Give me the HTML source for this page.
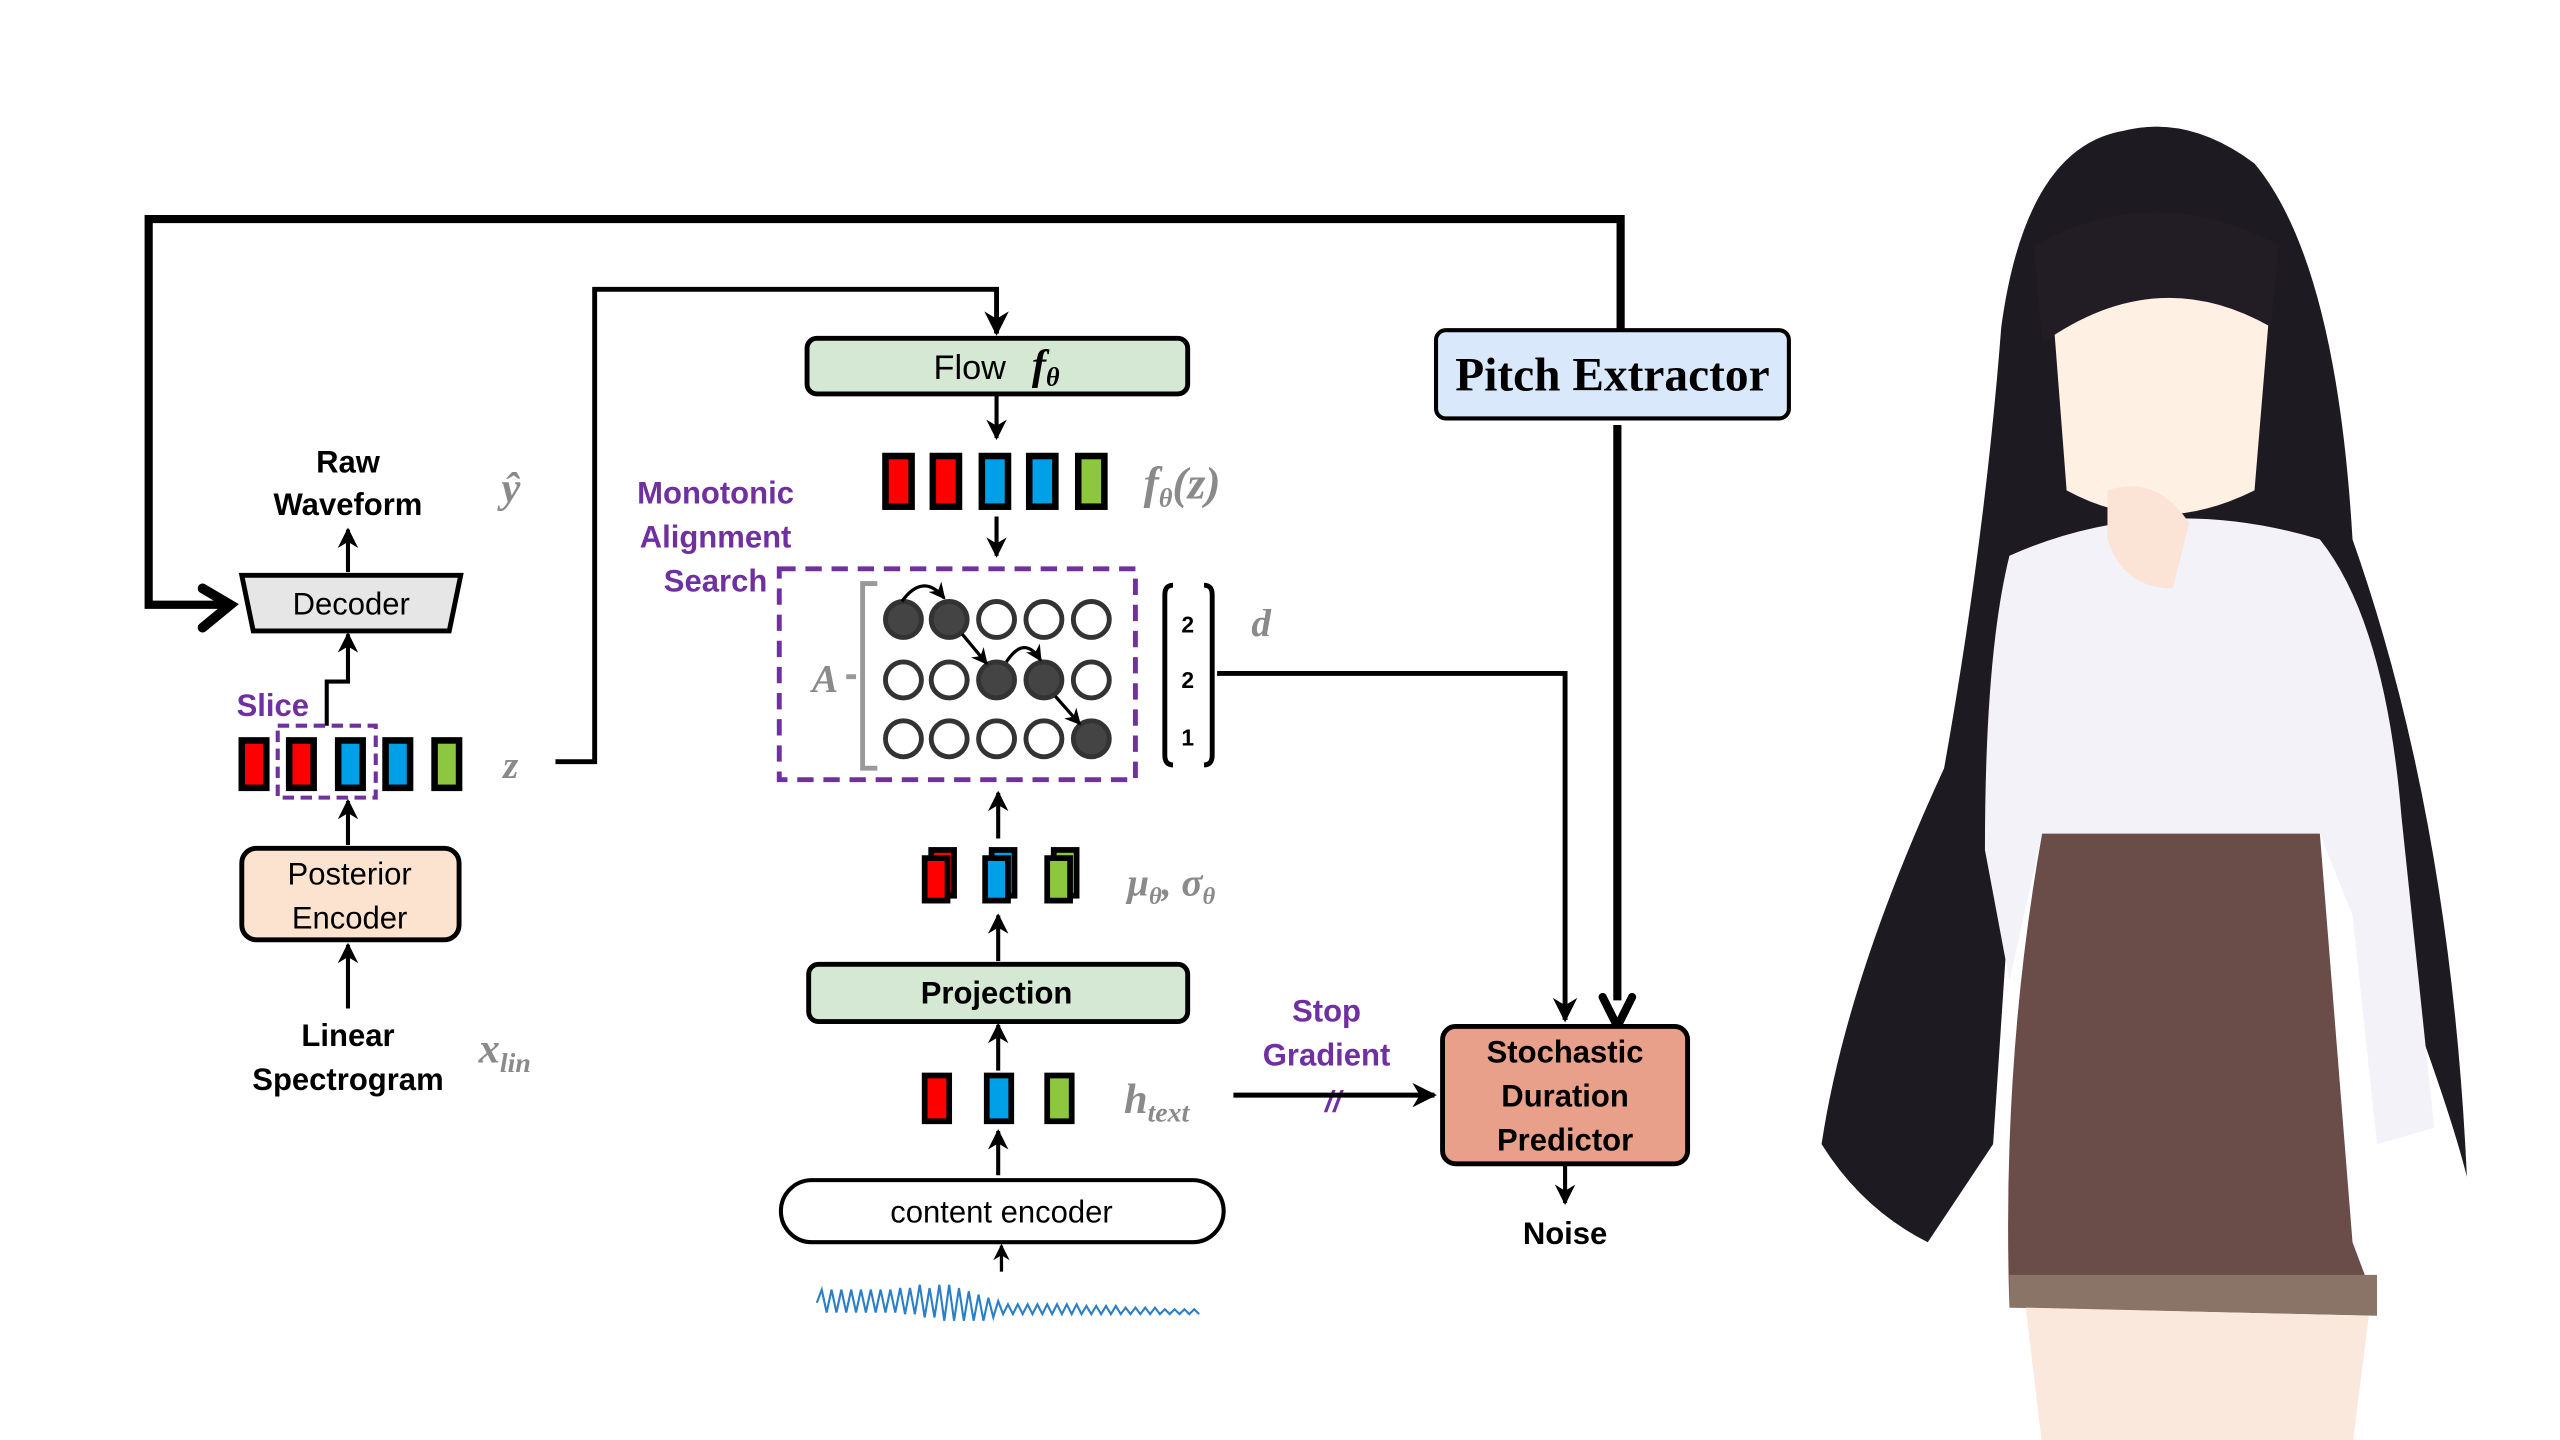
<!DOCTYPE html>
<html><head><meta charset="utf-8"><style>
html,body{margin:0;padding:0;background:#fff;}
svg{display:block;}
text{font-family:"Liberation Sans",sans-serif;font-weight:bold;}
.m{font-family:"Liberation Serif",serif;font-style:italic;fill:#8a8a8a;font-weight:bold;}
.p{fill:#7030a0;}
</style></head><body>
<svg width="2560" height="1440" viewBox="0 0 1567 881" preserveAspectRatio="none" xmlns="http://www.w3.org/2000/svg">
<defs>
<marker id="a" viewBox="0 0 10 10" refX="9" refY="5" markerWidth="5" markerHeight="5" orient="auto"><path d="M0,0 L10,5 L0,10 L3,5 z" fill="#000"/></marker>
</defs>
<path d="M992,202 V134 H91 V370 H138" fill="none" stroke="#000" stroke-width="5"/>
<path d="M124,360 L141,370 L124,384" fill="none" stroke="#000" stroke-width="6" stroke-linecap="round"/>
<rect x="879" y="202" width="216" height="54" rx="6" fill="#dae8fc" stroke="#000" stroke-width="2.5"/>
<text x="987" y="239" text-anchor="middle" style="font-family:'Liberation Serif',serif;font-size:29px;font-weight:bold">Pitch Extractor</text>
<path d="M990,260 V612" stroke="#000" stroke-width="5" fill="none"/>
<path d="M981,610 L990,628 L999,610" fill="none" stroke="#000" stroke-width="5" stroke-linecap="round"/>
<path d="M340,466 H364 V177 H610 V204" fill="none" stroke="#000" stroke-width="3" marker-end="url(#a)"/>
<rect x="494" y="207" width="233" height="34" rx="6" fill="#d5e8d4" stroke="#000" stroke-width="3"/>
<text x="610" y="232" text-anchor="middle" font-size="21" style="font-weight:normal">Flow <tspan class="m" style="fill:#000" font-size="26" dx="10">f</tspan><tspan class="m" style="fill:#000" font-size="16" dy="4">θ</tspan></text>
<path d="M610,241 V268" stroke="#000" stroke-width="2.5" marker-end="url(#a)"/>
<g stroke="#000" stroke-width="4">
<rect x="542" y="279" width="16" height="31" fill="#f00"/><rect x="571" y="279" width="16" height="31" fill="#f00"/>
<rect x="601" y="279" width="16" height="31" fill="#00a0e8"/><rect x="630" y="279" width="16" height="31" fill="#00a0e8"/>
<rect x="660" y="279" width="16" height="31" fill="#8dc63f"/>
</g>
<text x="700" y="305" class="m" font-size="28">f<tspan font-size="16" dy="5">θ</tspan><tspan dy="-5">(z)</tspan></text>
<path d="M610,316 V340" stroke="#000" stroke-width="2.5" marker-end="url(#a)"/>
<text x="438" y="308" text-anchor="middle" class="p" font-size="19">Monotonic</text>
<text x="438" y="335" text-anchor="middle" class="p" font-size="19">Alignment</text>
<text x="438" y="362" text-anchor="middle" class="p" font-size="19">Search</text>
<rect x="477" y="348" width="218" height="129" fill="none" stroke="#7030a0" stroke-width="3" stroke-dasharray="10,6"/>
<text x="497" y="423" class="m" font-size="24">A</text>
<path d="M518,414 H524 M537,357 H528 V470 H537" fill="none" stroke="#999" stroke-width="3"/>
<g stroke="#333" stroke-width="3">
<circle cx="553" cy="379" r="11" fill="#444"/><circle cx="581" cy="379" r="11" fill="#444"/><circle cx="610" cy="379" r="11" fill="#fff"/><circle cx="639" cy="379" r="11" fill="#fff"/><circle cx="668" cy="379" r="11" fill="#fff"/>
<circle cx="553" cy="416" r="11" fill="#fff"/><circle cx="581" cy="416" r="11" fill="#fff"/><circle cx="610" cy="416" r="11" fill="#444"/><circle cx="639" cy="416" r="11" fill="#444"/><circle cx="668" cy="416" r="11" fill="#fff"/>
<circle cx="553" cy="452" r="11" fill="#fff"/><circle cx="581" cy="452" r="11" fill="#fff"/><circle cx="610" cy="452" r="11" fill="#fff"/><circle cx="639" cy="452" r="11" fill="#fff"/><circle cx="668" cy="452" r="11" fill="#444"/>
</g>
<g fill="none" stroke="#000" stroke-width="2">
<path d="M552,368 Q565,350 578,366" marker-end="url(#a)"/>
<path d="M589,388 L604,406" marker-end="url(#a)"/>
<path d="M616,405 Q627,388 637,404" marker-end="url(#a)"/>
<path d="M646,426 L661,443" marker-end="url(#a)"/>
</g>
<path d="M718,358 Q713,358 713,364 V462 Q713,468 718,468 M737,358 Q742,358 742,364 V462 Q742,468 737,468" fill="none" stroke="#000" stroke-width="3"/>
<text x="727" y="387" text-anchor="middle" font-size="14">2</text>
<text x="727" y="421" text-anchor="middle" font-size="14">2</text>
<text x="727" y="456" text-anchor="middle" font-size="14">1</text>
<text x="766" y="389" class="m" font-size="24">d</text>
<path d="M745,412 H958 V624" fill="none" stroke="#000" stroke-width="3" marker-end="url(#a)"/>
<path d="M611,513 V485" stroke="#000" stroke-width="2.5" marker-end="url(#a)"/>
<g stroke="#000" stroke-width="3.5">
<rect x="570" y="520" width="14" height="28" fill="#f00"/><rect x="566" y="525" width="14" height="26" fill="#f00"/>
<rect x="607" y="520" width="14" height="28" fill="#00a0e8"/><rect x="603" y="525" width="14" height="26" fill="#00a0e8"/>
<rect x="645" y="520" width="14" height="28" fill="#8dc63f"/><rect x="641" y="525" width="14" height="26" fill="#8dc63f"/>
</g>
<text x="690" y="548" class="m" font-size="24">μ<tspan font-size="15" dy="5">θ</tspan><tspan dy="-5">, σ</tspan><tspan font-size="15" dy="5">θ</tspan></text>
<path d="M611,588 V560" stroke="#000" stroke-width="2.5" marker-end="url(#a)"/>
<rect x="495" y="590" width="232" height="35" rx="6" fill="#d5e8d4" stroke="#000" stroke-width="3"/>
<text x="610" y="614" text-anchor="middle" font-size="19">Projection</text>
<path d="M611,655 V627" stroke="#000" stroke-width="2.5" marker-end="url(#a)"/>
<g stroke="#000" stroke-width="3.5">
<rect x="566" y="658" width="15" height="28" fill="#f00"/><rect x="604" y="658" width="15" height="28" fill="#00a0e8"/><rect x="641" y="658" width="15" height="28" fill="#8dc63f"/>
</g>
<text x="688" y="681" class="m" font-size="26">h<tspan font-size="17" dy="5">text</tspan></text>
<path d="M611,719 V692" stroke="#000" stroke-width="2.5" marker-end="url(#a)"/>
<rect x="478" y="722" width="271" height="38" rx="19" fill="#fff" stroke="#000" stroke-width="2.5"/>
<text x="613" y="748" text-anchor="middle" font-size="19" style="font-weight:normal">content encoder</text>
<path d="M613,778 V762" stroke="#000" stroke-width="2" marker-end="url(#a)"/>
<path d="M500,797 l3,-8 l3,14 l3,-14 l3,14 l3,-14 l3,14 l3,-14 l3,14 l3,-14 l3,14 l3,-14 l3,14 l3,-14 l3,14 l3,-14 l3,14 l3,-15 l3,16 l3,-16 l3,16 l3,-18 l3,20 l3,-18 l3,18 l3,-20 l3,22 l3,-22 l3,22 l3,-20 l3,20 l3,-18 l3,18 l3,-16 l3,16 l3,-14 l3,12 l3,-10 l3,8 l3,-6 l3,6 l3,-6 l3,6 l3,-6 l3,6 l3,-6 l3,6 l3,-6 l3,6 l3,-6 l3,6 l3,-6 l3,6 l3,-6 l3,6 l3,-5 l3,5 l3,-5 l3,5 l3,-5 l3,5 l3,-5 l3,5 l3,-4 l3,4 l3,-4 l3,4 l3,-4 l3,4 l3,-4 l3,4 l3,-3 l3,3 l3,-3 l3,3 l3,-3 l3,3 l3,-3 l3,3" fill="none" stroke="#2a7fc8" stroke-width="1.3"/>
<text x="812" y="625" text-anchor="middle" class="p" font-size="19">Stop</text>
<text x="812" y="652" text-anchor="middle" class="p" font-size="19">Gradient</text>
<text x="816" y="680" text-anchor="middle" class="p" font-size="18" style="font-style:italic">//</text>
<path d="M755,670 H878" stroke="#000" stroke-width="3" marker-end="url(#a)"/>
<rect x="883" y="628" width="150" height="84" rx="8" fill="#e8a08a" stroke="#000" stroke-width="3"/>
<text x="958" y="650" text-anchor="middle" font-size="19">Stochastic</text>
<text x="958" y="677" text-anchor="middle" font-size="19">Duration</text>
<text x="958" y="704" text-anchor="middle" font-size="19">Predictor</text>
<path d="M958,712 V736" stroke="#000" stroke-width="2.5" marker-end="url(#a)"/>
<text x="958" y="761" text-anchor="middle" font-size="19">Noise</text>
<text x="213" y="289" text-anchor="middle" font-size="19">Raw</text>
<text x="213" y="315" text-anchor="middle" font-size="19">Waveform</text>
<text x="307" y="307" class="m" font-size="26">ŷ</text>
<path d="M213,350 V324" stroke="#000" stroke-width="2.5" marker-end="url(#a)"/>
<path d="M148,352 H282 L275,386 H155 Z" fill="#e6e6e6" stroke="#000" stroke-width="3"/>
<text x="215" y="376" text-anchor="middle" font-size="19" style="font-weight:normal">Decoder</text>
<path d="M200,444 V417 H213 V388" fill="none" stroke="#000" stroke-width="2.5" marker-end="url(#a)"/>
<text x="167" y="438" text-anchor="middle" class="p" font-size="19">Slice</text>
<g stroke="#000" stroke-width="4">
<rect x="148" y="453" width="15" height="29" fill="#f00"/><rect x="177" y="453" width="15" height="29" fill="#f00"/>
<rect x="207" y="453" width="15" height="29" fill="#00a0e8"/><rect x="236" y="453" width="15" height="29" fill="#00a0e8"/>
<rect x="266" y="453" width="15" height="29" fill="#8dc63f"/>
</g>
<rect x="170" y="444" width="60" height="44" fill="none" stroke="#7030a0" stroke-width="2.5" stroke-dasharray="7,4"/>
<text x="308" y="476" class="m" font-size="24">z</text>
<path d="M213,517 V490" stroke="#000" stroke-width="2.5" marker-end="url(#a)"/>
<rect x="148" y="519" width="133" height="56" rx="9" fill="#fbe3d0" stroke="#000" stroke-width="3"/>
<text x="214" y="541" text-anchor="middle" font-size="19" style="font-weight:normal">Posterior</text>
<text x="214" y="568" text-anchor="middle" font-size="19" style="font-weight:normal">Encoder</text>
<path d="M213,617 V578" stroke="#000" stroke-width="2.5" marker-end="url(#a)"/>
<text x="213" y="640" text-anchor="middle" font-size="19">Linear</text>
<text x="213" y="667" text-anchor="middle" font-size="19">Spectrogram</text>
<text x="293" y="650" class="m" font-size="26">x<tspan font-size="17" dy="6">lin</tspan></text>
<path d="M1300,80 Q1240,90 1225,200 Q1215,330 1190,470 Q1130,600 1115,700 Q1140,740 1180,760 L1220,700 L1240,400 L1420,400 L1470,600 Q1500,680 1510,720 Q1500,500 1440,330 Q1430,160 1380,100 Q1340,70 1300,80 Z" fill="#1e1a22"/>
<path d="M1255,170 Q1320,150 1390,180 L1380,300 Q1320,330 1265,300 Z" fill="#fff0e4"/>
<path d="M1245,150 Q1320,110 1395,150 L1390,200 Q1320,160 1250,210 Z" fill="#221c24"/>
<path d="M1230,340 Q1320,300 1420,330 Q1460,380 1470,500 L1490,690 L1455,700 L1440,560 L1420,510 L1250,510 L1230,600 L1215,520 Q1215,400 1230,340 Z" fill="#f2f2f8"/>
<path d="M1250,510 L1420,510 L1440,760 L1455,800 L1230,800 Q1225,650 1250,510 Z" fill="#6a4c48"/>
<path d="M1230,780 L1455,780 L1455,805 L1230,800 Z" fill="#8a7468"/>
<path d="M1240,800 L1450,805 L1440,884 L1250,884 Z" fill="#fbe8dc"/>
<path d="M1290,300 Q1320,290 1340,320 L1330,360 Q1300,360 1290,330 Z" fill="#fbe4d6"/>
</svg>
</body></html>
